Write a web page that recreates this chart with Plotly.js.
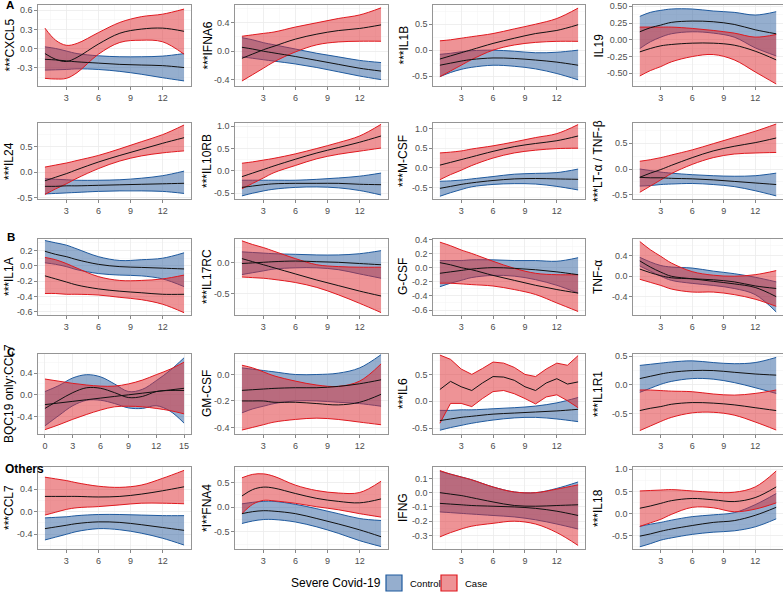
<!DOCTYPE html>
<html>
<head>
<meta charset="utf-8">
<script src="https://cdn.plot.ly/plotly-3.0.1.min.js"></script>
<style>
  body { margin: 0; background: #fff; }
  #chart { width: 783px; height: 592px; }
</style>
</head>
<body>
<div id="chart"></div>
<script>
const days = [1, 2, 3, 4, 6, 8, 10, 12, 14];
const daysBQC = [0, 1.5, 3, 4.5, 6, 7.5, 9, 10.5, 12, 13.5, 15];
const daysEach = [1, 2, 3, 4, 5, 6, 7, 8, 9, 10, 11, 12, 13, 14];

const markers = ['***CXCL5', '***IFNA6', '***IL1B', 'IL19',
  '***IL24', '***IL10RB', '***M-CSF', '***LT-α / TNF-β',
  '***IL1A', '***IL17RC', 'G-CSF', 'TNF-α',
  'BQC19 only:CCL7', 'GM-CSF', '***IL6', '***IL1R1',
  '***CCL7', '*I**FNA4', 'IFNG', '***IL18'];

// Control (blue) band: lower, fit, upper
const ctrlLo = [
  [-0.34, -0.335, -0.33, -0.32, -0.33, -0.36, -0.405, -0.46, -0.51],
  [-0.08, -0.1, -0.12, -0.14, -0.18, -0.23, -0.29, -0.35, -0.4],
  [-0.51, -0.43, -0.37, -0.33, -0.29, -0.31, -0.36, -0.45, -0.57],
  [-0.13, -0.03, 0.04, 0.09, 0.12, 0.1, 0.04, -0.12, -0.24],
  [-0.43, -0.42, -0.41, -0.4, -0.38, -0.37, -0.37, -0.38, -0.42],
  [-0.56, -0.5, -0.45, -0.41, -0.37, -0.36, -0.38, -0.44, -0.54],
  [-0.72, -0.63, -0.55, -0.48, -0.42, -0.4, -0.41, -0.47, -0.56],
  [-0.33, -0.32, -0.3, -0.29, -0.28, -0.3, -0.34, -0.42, -0.52],
  [0.04, 0.02, -0.01, -0.05, -0.1, -0.12, -0.13, -0.17, -0.27],
  [-0.19, -0.16, -0.13, -0.1, -0.08, -0.08, -0.11, -0.18, -0.25],
  [-0.27, -0.22, -0.18, -0.14, -0.11, -0.12, -0.17, -0.25, -0.36],
  [0.2, 0.1, 0.0, -0.08, -0.14, -0.18, -0.24, -0.36, -0.7],
  [-0.57, -0.38, -0.2, -0.1, -0.1, -0.16, -0.24, -0.25, -0.2, -0.3, -0.52],
  [-0.29, -0.26, -0.24, -0.22, -0.2, -0.2, -0.21, -0.22, -0.24],
  [-0.54, -0.49, -0.45, -0.41, -0.35, -0.31, -0.3, -0.33, -0.38],
  [-0.13, -0.06, 0.01, 0.06, 0.11, 0.1, 0.04, -0.05, -0.15],
  [-0.5, -0.45, -0.4, -0.35, -0.3, -0.32, -0.38, -0.47, -0.59],
  [-0.33, -0.28, -0.25, -0.25, -0.3, -0.4, -0.53, -0.68, -0.8],
  [-0.135, -0.14, -0.145, -0.15, -0.16, -0.17, -0.19, -0.22, -0.255],
  [-0.75, -0.68, -0.6, -0.55, -0.47, -0.42, -0.39, -0.3, -0.12]
];
const ctrlMid = [
  [-0.17, -0.18, -0.195, -0.21, -0.23, -0.25, -0.26, -0.27, -0.3],
  [0.055, 0.03, 0.0, -0.025, -0.075, -0.13, -0.185, -0.24, -0.28],
  [-0.29, -0.25, -0.21, -0.18, -0.15, -0.16, -0.19, -0.23, -0.29],
  [0.12, 0.18, 0.22, 0.26, 0.28, 0.27, 0.23, 0.15, 0.09],
  [-0.28, -0.28, -0.27, -0.27, -0.26, -0.25, -0.24, -0.23, -0.22],
  [-0.37, -0.34, -0.31, -0.29, -0.28, -0.28, -0.28, -0.3, -0.31],
  [-0.52, -0.47, -0.42, -0.38, -0.32, -0.28, -0.27, -0.28, -0.29],
  [-0.16, -0.17, -0.17, -0.18, -0.19, -0.21, -0.24, -0.27, -0.3],
  [0.19, 0.15, 0.12, 0.08, 0.02, -0.01, -0.02, -0.03, -0.04],
  [-0.01, 0.0, 0.01, 0.02, 0.03, 0.02, 0.01, -0.01, -0.03],
  [-0.08, -0.06, -0.04, -0.02, 0.0, -0.01, -0.03, -0.06, -0.1],
  [0.3, 0.18, 0.08, 0.0, -0.05, -0.1, -0.15, -0.22, -0.4],
  [-0.25, -0.1, 0.04, 0.13, 0.12, 0.04, -0.05, -0.03, 0.06, 0.08, 0.08],
  [-0.12, -0.115, -0.11, -0.105, -0.1, -0.1, -0.09, -0.07, -0.04],
  [-0.36, -0.33, -0.3, -0.28, -0.24, -0.22, -0.2, -0.18, -0.15],
  [0.11, 0.15, 0.19, 0.22, 0.25, 0.25, 0.22, 0.19, 0.17],
  [-0.3, -0.27, -0.24, -0.21, -0.18, -0.19, -0.23, -0.28, -0.33],
  [-0.13, -0.09, -0.07, -0.08, -0.13, -0.23, -0.34, -0.46, -0.6],
  [0.0, -0.01, -0.02, -0.035, -0.065, -0.09, -0.095, -0.09, -0.085],
  [-0.51, -0.46, -0.4, -0.35, -0.27, -0.2, -0.16, -0.04, 0.14]
];
const ctrlHi = [
  [0.026, 0.0, -0.04, -0.08, -0.115, -0.13, -0.13, -0.12, -0.08],
  [0.19, 0.16, 0.12, 0.09, 0.03, -0.03, -0.08, -0.13, -0.16],
  [-0.08, -0.06, -0.03, -0.01, 0.0, -0.02, -0.05, -0.04, 0.0],
  [0.35, 0.41, 0.44, 0.46, 0.46, 0.43, 0.41, 0.37, 0.42],
  [-0.13, -0.14, -0.15, -0.16, -0.16, -0.15, -0.12, -0.07, 0.02],
  [-0.21, -0.21, -0.21, -0.21, -0.21, -0.19, -0.16, -0.12, -0.05],
  [-0.34, -0.33, -0.31, -0.28, -0.22, -0.16, -0.14, -0.12, -0.03],
  [0.0, -0.03, -0.06, -0.08, -0.11, -0.13, -0.14, -0.13, -0.08],
  [0.33, 0.3, 0.27, 0.22, 0.12, 0.07, 0.08, 0.1, 0.17],
  [0.18, 0.17, 0.16, 0.15, 0.14, 0.13, 0.13, 0.15, 0.2],
  [0.1, 0.1, 0.1, 0.11, 0.11, 0.1, 0.1, 0.09, 0.14],
  [0.37, 0.28, 0.21, 0.18, 0.16, 0.1, 0.05, -0.02, -0.11],
  [0.06, 0.17, 0.31, 0.37, 0.33, 0.2, 0.06, 0.1, 0.26, 0.45, 0.68],
  [0.05, 0.04, 0.03, 0.02, 0.0, 0.0, 0.01, 0.05, 0.15],
  [-0.17, -0.17, -0.16, -0.16, -0.14, -0.12, -0.09, -0.03, 0.07],
  [0.34, 0.36, 0.38, 0.4, 0.42, 0.39, 0.37, 0.39, 0.48],
  [-0.11, -0.1, -0.09, -0.07, -0.05, -0.05, -0.06, -0.07, -0.07],
  [0.07, 0.1, 0.12, 0.12, 0.06, -0.03, -0.13, -0.23, -0.27],
  [0.15, 0.13, 0.11, 0.09, 0.04, 0.005, 0.0, 0.03, 0.075],
  [-0.29, -0.24, -0.2, -0.15, -0.07, -0.03, 0.02, 0.2, 0.45]
];

// Case (red) band: lower, fit, upper
const caseLo = [
  [-0.47, -0.48, -0.47, -0.38, -0.09, 0.095, 0.13, 0.105, -0.09],
  [-0.42, -0.33, -0.24, -0.15, -0.01, 0.09, 0.13, 0.14, 0.14],
  [-0.51, -0.4, -0.29, -0.18, 0.0, 0.1, 0.15, 0.17, 0.17],
  [-0.54, -0.46, -0.4, -0.33, -0.25, -0.22, -0.3, -0.48, -0.66],
  [-0.44, -0.33, -0.23, -0.12, 0.07, 0.22, 0.32, 0.38, 0.42],
  [-0.4, -0.28, -0.16, -0.04, 0.12, 0.27, 0.37, 0.44, 0.51],
  [-0.3, -0.17, -0.06, 0.06, 0.25, 0.38, 0.45, 0.49, 0.5],
  [-0.45, -0.33, -0.21, -0.09, 0.09, 0.22, 0.29, 0.31, 0.32],
  [-0.36, -0.36, -0.37, -0.37, -0.38, -0.41, -0.44, -0.5, -0.61],
  [-0.23, -0.24, -0.25, -0.27, -0.32, -0.4, -0.52, -0.66, -0.81],
  [-0.22, -0.22, -0.23, -0.24, -0.26, -0.31, -0.38, -0.5, -0.62],
  [-0.06, -0.12, -0.18, -0.25, -0.31, -0.31, -0.36, -0.45, -0.59],
  [-0.64, -0.55, -0.45, -0.36, -0.28, -0.22, -0.21, -0.22, -0.25, -0.29, -0.35],
  [-0.42, -0.4, -0.38, -0.36, -0.34, -0.33, -0.34, -0.36, -0.38],
  [-0.41, -0.04, -0.04, -0.1, 0.05, 0.18, 0.2, 0.14, 0.05, -0.05, 0.08, 0.12, 0.01, -0.12],
  [-0.8, -0.72, -0.64, -0.57, -0.49, -0.48, -0.53, -0.65, -0.79],
  [-0.06, -0.01, 0.04, 0.07, 0.09, 0.12, 0.15, 0.15, 0.14],
  [-0.13, 0.06, 0.14, 0.13, 0.08, 0.01, -0.05, -0.13, -0.2],
  [-0.31, -0.28, -0.255, -0.235, -0.215, -0.2, -0.22, -0.28, -0.37],
  [-0.29, -0.21, -0.13, -0.02, 0.14, 0.13, 0.04, 0.1, 0.24]
];
const caseMid = [
  [-0.08, -0.17, -0.205, -0.14, 0.07, 0.24, 0.305, 0.32, 0.27],
  [-0.1, -0.04, 0.02, 0.07, 0.17, 0.24, 0.29, 0.32, 0.37],
  [-0.17, -0.11, -0.05, 0.01, 0.13, 0.23, 0.32, 0.38, 0.49],
  [-0.18, -0.13, -0.09, -0.07, -0.05, -0.05, -0.08, -0.17, -0.3],
  [-0.17, -0.1, -0.03, 0.05, 0.2, 0.33, 0.45, 0.57, 0.68],
  [-0.13, -0.05, 0.03, 0.11, 0.26, 0.4, 0.52, 0.64, 0.78],
  [0.07, 0.14, 0.21, 0.28, 0.42, 0.54, 0.62, 0.69, 0.81],
  [-0.16, -0.08, -0.01, 0.07, 0.22, 0.35, 0.44, 0.51, 0.6],
  [-0.13, -0.17, -0.21, -0.25, -0.3, -0.33, -0.35, -0.37, -0.37],
  [0.07, 0.02, -0.03, -0.08, -0.18, -0.28, -0.37, -0.46, -0.54],
  [0.07, 0.04, 0.0, -0.03, -0.11, -0.18, -0.25, -0.31, -0.36],
  [0.14, 0.07, 0.01, -0.03, -0.05, -0.07, -0.11, -0.19, -0.24],
  [-0.18, -0.15, -0.12, -0.09, -0.06, -0.03, 0.0, 0.03, 0.06, 0.09, 0.12],
  [-0.2, -0.2, -0.2, -0.21, -0.21, -0.22, -0.23, -0.21, -0.15],
  [0.22, 0.37, 0.27, 0.2, 0.34, 0.46, 0.45, 0.39, 0.27, 0.2, 0.34, 0.42, 0.32, 0.36],
  [-0.45, -0.41, -0.38, -0.34, -0.31, -0.32, -0.35, -0.4, -0.45],
  [0.27, 0.27, 0.27, 0.27, 0.26, 0.27, 0.31, 0.37, 0.44],
  [0.23, 0.36, 0.41, 0.39, 0.28, 0.18, 0.12, 0.09, 0.17],
  [-0.075, -0.08, -0.085, -0.09, -0.095, -0.1, -0.11, -0.13, -0.16],
  [0.12, 0.17, 0.23, 0.29, 0.34, 0.31, 0.27, 0.36, 0.6]
];
const caseHi = [
  [0.32, 0.13, 0.05, 0.08, 0.25, 0.41, 0.5, 0.54, 0.62],
  [0.21, 0.23, 0.25, 0.27, 0.34, 0.4, 0.46, 0.51, 0.61],
  [0.18, 0.2, 0.23, 0.26, 0.32, 0.41, 0.5, 0.61, 0.81],
  [0.19, 0.19, 0.19, 0.19, 0.17, 0.14, 0.1, 0.04, 0.08],
  [0.1, 0.14, 0.18, 0.23, 0.33, 0.46, 0.6, 0.74, 0.93],
  [0.17, 0.2, 0.24, 0.28, 0.38, 0.5, 0.63, 0.78, 1.04],
  [0.38, 0.4, 0.43, 0.48, 0.56, 0.66, 0.77, 0.87, 1.1],
  [0.15, 0.18, 0.22, 0.27, 0.37, 0.49, 0.61, 0.73, 0.87],
  [0.11, 0.08, 0.03, -0.03, -0.14, -0.19, -0.19, -0.17, -0.12],
  [0.36, 0.3, 0.25, 0.19, 0.07, -0.03, -0.06, -0.07, -0.07],
  [0.36, 0.31, 0.25, 0.2, 0.09, -0.01, -0.08, -0.1, -0.1],
  [0.68, 0.52, 0.39, 0.26, 0.09, 0.02, 0.0, 0.03, 0.11],
  [0.29, 0.25, 0.21, 0.18, 0.16, 0.16, 0.2, 0.27, 0.37, 0.47, 0.6],
  [0.07, 0.05, 0.02, -0.01, -0.05, -0.08, -0.09, -0.05, 0.08],
  [0.86, 0.78, 0.6, 0.5, 0.61, 0.73, 0.71, 0.63, 0.5, 0.46, 0.6, 0.71, 0.67, 0.85],
  [-0.09, -0.09, -0.1, -0.11, -0.12, -0.16, -0.18, -0.15, -0.09],
  [0.61, 0.58, 0.55, 0.51, 0.45, 0.43, 0.47, 0.59, 0.73],
  [0.6, 0.67, 0.68, 0.63, 0.45, 0.34, 0.29, 0.3, 0.53],
  [0.155, 0.13, 0.11, 0.09, 0.04, 0.005, 0.0, 0.025, 0.055],
  [0.51, 0.52, 0.53, 0.54, 0.51, 0.48, 0.48, 0.6, 0.96]
];

// y axis breaks and limits per panel
const yTicks = [
  [-0.3, 0, 0.3, 0.6], [-0.4, 0, 0.4], [-0.5, 0, 0.5], [-0.5, -0.25, 0, 0.25, 0.5],
  [-0.5, 0, 0.5], [-0.5, 0, 0.5, 1], [-0.5, 0, 0.5, 1], [-0.5, 0, 0.5],
  [-0.6, -0.4, -0.2, 0, 0.2], [-0.5, 0], [-0.6, -0.4, -0.2, 0, 0.2, 0.4], [-0.4, 0, 0.4],
  [-0.4, 0, 0.4], [-0.4, -0.2, 0], [-0.5, 0, 0.5], [-0.5, 0, 0.5],
  [-0.4, 0, 0.4], [-0.5, 0, 0.5], [-0.3, -0.2, -0.1, 0, 0.1], [-0.5, 0, 0.5, 1]
];
const yRanges = [
  [-0.59, 0.684], [-0.49, 0.65], [-0.69, 0.87], [-0.69, 0.52],
  [-0.53, 0.97], [-0.63, 1.07], [-0.79, 1.14], [-0.58, 0.89],
  [-0.64, 0.35], [-0.85, 0.39], [-0.67, 0.405], [-0.76, 0.73],
  [-0.72, 0.75], [-0.45, 0.155], [-0.61, 0.88], [-0.86, 0.54],
  [-0.66, 0.79], [-0.85, 0.82], [-0.395, 0.18], [-0.8, 1.05]
];

const W = 783, H = 592;
const colPx = [[38, 191], [235, 388], [433, 585], [633, 783]];
const rowPx = [[5, 86], [123, 199], [239, 315], [354, 434], [467, 549]];
const titleX = [9, 207, 403, 598];

const FONT = 'Liberation Sans, Arial, sans-serif';
const BLUE = '#1f5a9e', RED = '#e0191f';
const BLUE_FILL = 'rgba(44,94,157,0.5)', RED_FILL = 'rgba(222,40,45,0.5)';

function xFor(p, group) {
  if (p === 12) return daysBQC;
  if (p === 14 && group === 'case') return daysEach;
  return days;
}

const traces = [];
const layout = {
  width: W, height: H,
  margin: { l: 0, r: 0, t: 0, b: 0 },
  paper_bgcolor: '#fff', plot_bgcolor: '#fff',
  showlegend: false,
  font: { family: FONT },
  annotations: [], shapes: []
};

const px2x = v => v / W;
const px2y = v => 1 - v / H;

for (let p = 0; p < 20; p++) {
  const row = Math.floor(p / 4), col = p % 4;
  const n = p === 0 ? '' : String(p + 1);
  const xa = 'x' + n, ya = 'y' + n;

  const groups = [
    { key: 'ctrl', lo: ctrlLo[p], mid: ctrlMid[p], hi: ctrlHi[p], edge: BLUE, fill: BLUE_FILL },
    { key: 'case', lo: caseLo[p], mid: caseMid[p], hi: caseHi[p], edge: RED, fill: RED_FILL }
  ];
  // ribbons first (control under case), fitted lines on top
  groups.forEach(g => {
    const xs = xFor(p, g.key);
    const shape = (p === 14 && g.key === 'case') ? 'linear' : 'spline';
    traces.push({ x: xs, y: g.lo, xaxis: xa, yaxis: ya, type: 'scatter', mode: 'lines',
      line: { color: g.edge, width: 1, shape: shape }, hoverinfo: 'skip' });
    traces.push({ x: xs, y: g.hi, xaxis: xa, yaxis: ya, type: 'scatter', mode: 'lines',
      fill: 'tonexty', fillcolor: g.fill,
      line: { color: g.edge, width: 1, shape: shape }, hoverinfo: 'skip' });
  });
  groups.forEach(g => {
    const xs = xFor(p, g.key);
    const shape = (p === 14 && g.key === 'case') ? 'linear' : 'spline';
    traces.push({ x: xs, y: g.mid, xaxis: xa, yaxis: ya, type: 'scatter', mode: 'lines',
      line: { color: '#111', width: 1, shape: shape }, hoverinfo: 'skip' });
  });

  const isBQC = p === 12;
  const xt = isBQC ? [0, 3, 6, 9, 12, 15] : [3, 6, 9, 12];
  const xMinor = [1.5, 4.5, 7.5, 10.5, 13.5];
  const yt = yTicks[p];
  const step = yt[1] - yt[0];
  const dec = yt.some(v => Math.abs(v * 10 - Math.round(v * 10)) > 1e-9) ? 2 : 1;
  const yr = yRanges[p];
  const yMinor = [yt[0] - step / 2].concat(yt.map(v => v + step / 2))
    .filter(v => v > yr[0] && v < yr[1]);

  const common = {
    showline: true, mirror: true, linecolor: '#7a7a7a', linewidth: 0.8,
    ticks: 'outside', ticklen: 3, tickwidth: 0.7, tickcolor: '#555',
    tickfont: { size: 9, color: '#4d4d4d', family: FONT },
    showgrid: true, gridcolor: '#ebebeb', gridwidth: 0.8, zeroline: false,
    fixedrange: true, tickmode: 'array'
  };
  layout['xaxis' + n] = Object.assign({}, common, {
    domain: [px2x(colPx[col][0]), px2x(colPx[col][1])],
    anchor: ya,
    range: isBQC ? [-0.75, 15.75] : [0.35, 14.65],
    tickvals: xt, ticktext: xt.map(String),
    minor: { tickmode: 'array', tickvals: xMinor, showgrid: true, gridcolor: '#f4f4f4', gridwidth: 0.5, ticks: '' }
  });
  layout['yaxis' + n] = Object.assign({}, common, {
    domain: [px2y(rowPx[row][1]), px2y(rowPx[row][0])],
    anchor: xa,
    range: yr,
    tickvals: yt, ticktext: yt.map(v => v.toFixed(dec)),
    minor: { tickmode: 'array', tickvals: yMinor, showgrid: true, gridcolor: '#f4f4f4', gridwidth: 0.5, ticks: '' }
  });

  // y axis title, rotated like ggplot's
  layout.annotations.push({
    xref: 'paper', yref: 'paper',
    x: px2x(titleX[col]), y: px2y((rowPx[row][0] + rowPx[row][1]) / 2),
    text: markers[p], textangle: -90, showarrow: false,
    xanchor: 'center', yanchor: 'middle',
    font: { size: 12, color: '#000', family: FONT }
  });
}

// panel group letters
[['A', 4, 5], ['B', 5, 237], ['C', 5, 352], ['Others', 3, 469]].forEach(([t, x, y]) => {
  layout.annotations.push({
    xref: 'paper', yref: 'paper', x: px2x(x), y: px2y(y),
    text: '<b>' + t + '</b>', showarrow: false, xanchor: 'left', yanchor: 'middle',
    font: { size: t === 'Others' ? 12 : 11.5, color: '#000', family: FONT }
  });
});

// legend drawn ggplot style at the bottom
const legendY = 583;
layout.annotations.push({
  xref: 'paper', yref: 'paper', x: px2x(383), y: px2y(legendY),
  text: 'Severe Covid-19', showarrow: false, xanchor: 'right', yanchor: 'middle',
  font: { size: 12, color: '#000', family: FONT }
});
[['Control', 386, BLUE, BLUE_FILL], ['Case', 441, RED, RED_FILL]].forEach(([name, x0, edge, fill]) => {
  layout.shapes.push({
    type: 'rect', xref: 'paper', yref: 'paper',
    x0: px2x(x0), x1: px2x(x0 + 16), y0: px2y(legendY + 8), y1: px2y(legendY - 8),
    line: { color: edge, width: 1.2 }, fillcolor: fill
  });
  layout.annotations.push({
    xref: 'paper', yref: 'paper', x: px2x(x0 + 22), y: px2y(legendY),
    text: name, showarrow: false, xanchor: 'left', yanchor: 'middle',
    font: { size: 9.5, color: '#000', family: FONT }
  });
});

Plotly.newPlot('chart', traces, layout, { displayModeBar: false, staticPlot: true });
</script>
</body>
</html>
